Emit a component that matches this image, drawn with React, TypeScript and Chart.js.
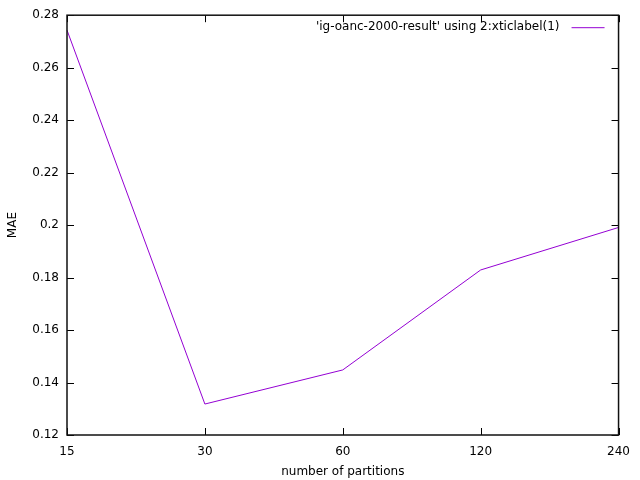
import React, { useEffect, useRef } from "react";
import { Chart, registerables } from "chart.js";

Chart.register(...registerables);

const categories = ["15", "30", "60", "120", "240"];
const maeValues = [0.2743, 0.1318, 0.1448, 0.1829, 0.1991];
const seriesLabel = "'ig-oanc-2000-result' using 2:xticlabel(1)";
const yMin = 0.12;
const yMax = 0.28;
const yStep = 0.02;

const FONT = "'DejaVu Sans', sans-serif";

const frameAndTicks = {
  id: "frameAndTicks",
  afterDraw(chart: any) {
    const { ctx, chartArea } = chart;
    const { left, right, top, bottom } = chartArea;
    const tl = 7;
    ctx.save();
    ctx.strokeStyle = "#000";
    ctx.lineWidth = 1;
    const xs = chart.scales.x;
    const ys = chart.scales.y;
    ctx.beginPath();
    xs.ticks.forEach((_t: any, i: number) => {
      const px = Math.round(xs.getPixelForTick(i)) + 0.5;
      ctx.moveTo(px, bottom);
      ctx.lineTo(px, bottom - tl);
      ctx.moveTo(px, top);
      ctx.lineTo(px, top + tl);
    });
    ys.ticks.forEach((_t: any, i: number) => {
      const py = Math.round(ys.getPixelForTick(i)) + 0.5;
      ctx.moveTo(left, py);
      ctx.lineTo(left + tl, py);
      ctx.moveTo(right, py);
      ctx.lineTo(right - tl, py);
    });
    ctx.stroke();
    ctx.lineWidth = 1.5;
    ctx.strokeStyle = "#111";
    ctx.strokeRect(left, top, right - left, bottom - top);

    // legend (gnuplot style: text then line sample, top-right inside plot)
    const ds = chart.data.datasets[0];
    const ly = top + 12;
    ctx.font = "12px " + FONT;
    ctx.fillStyle = "#000";
    ctx.textAlign = "right";
    ctx.textBaseline = "middle";
    ctx.fillText(ds.label, right - 59, ly);
    ctx.beginPath();
    ctx.strokeStyle = ds.borderColor;
    ctx.lineWidth = ds.borderWidth;
    ctx.moveTo(right - 47, ly + 0.5);
    ctx.lineTo(right - 14, ly + 0.5);
    ctx.stroke();
    ctx.restore();
  },
};

export default function App() {
  const ref = useRef<HTMLCanvasElement | null>(null);
  useEffect(() => {
    document.body.style.margin = "0";
    if (!ref.current) return;
    const chart = new Chart(ref.current, {
      type: "line",
      data: {
        labels: categories,
        datasets: [
          {
            label: seriesLabel,
            data: maeValues,
            borderColor: "#9400D3",
            backgroundColor: "#9400D3",
            borderWidth: 1,
            pointRadius: 0,
            tension: 0,
            fill: false,
          },
        ],
      },
      options: {
        responsive: false,
        animation: false,
        layout: { padding: { left: 0, right: 21, top: 15, bottom: 0 } },
        plugins: {
          tooltip: { enabled: false },
          legend: { display: false },
        },
        scales: {
          x: {
            type: "category",
            offset: false,
            grid: { display: false, drawTicks: false },
            border: { display: false },
            ticks: {
              color: "#000",
              font: { family: FONT, size: 12 },
              padding: 10,
              maxRotation: 0,
              autoSkip: false,
            },
            title: {
              display: true,
              text: "number of partitions",
              color: "#000",
              font: { family: FONT, size: 12 },
              padding: { top: 0, bottom: 1 },
            },
            afterFit: (s: any) => {
              s.height = 45;
            },
          },
          y: {
            min: yMin,
            max: yMax,
            grid: { display: false, drawTicks: false },
            border: { display: false },
            ticks: {
              stepSize: yStep,
              color: "#000",
              font: { family: FONT, size: 12 },
              padding: 8,
              callback: (v: any) => String(Math.round(Number(v) * 100) / 100),
            },
            title: {
              display: true,
              text: "MAE",
              color: "#000",
              font: { family: FONT, size: 12 },
              padding: { top: 6, bottom: 0 },
            },
            afterFit: (s: any) => {
              s.width = 67;
            },
          },
        },
      },
      plugins: [frameAndTicks],
    });
    return () => chart.destroy();
  }, []);
  return (
    <div style={{ width: 640, height: 480 }}>
      <canvas ref={ref} width={640} height={480} />
    </div>
  );
}
